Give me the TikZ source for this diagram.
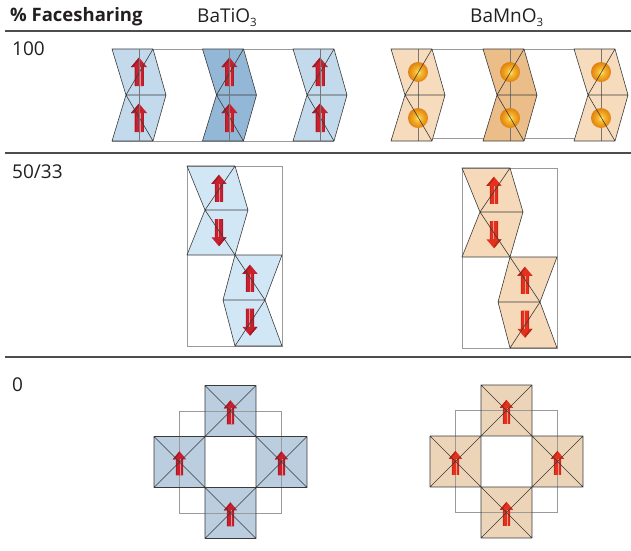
\documentclass[tikz,border=0pt]{standalone}
\usepackage{fontspec}
\setmainfont{Open Sans}

\definecolor{ink}{HTML}{231F20}
\definecolor{rulec}{HTML}{4D4D4D}
\definecolor{edgec}{HTML}{3A3A3A}
\definecolor{cellc}{HTML}{9A9A9A}
\definecolor{tiA}{HTML}{C3D9EC}
\definecolor{tiB}{HTML}{93B7D7}
\definecolor{tiC}{HTML}{D2E7F6}
\definecolor{tiD}{HTML}{BACEDF}
\definecolor{mnA}{HTML}{F6DBBD}
\definecolor{mnB}{HTML}{EBBD89}
\definecolor{mnC}{HTML}{F5D9B9}
\definecolor{mnD}{HTML}{ECD4B8}
\definecolor{tiSpin}{HTML}{C8202E}
\definecolor{mnSpin}{HTML}{E5301C}
\definecolor{orbIn}{HTML}{FFF2A0}
\definecolor{orbMidA}{HTML}{F8BE30}
\definecolor{orbMid}{HTML}{E58A14}
\definecolor{orbDark}{HTML}{BE660C}
\definecolor{orbOut}{HTML}{8C4A08}

% glossy Mn sphere
\pgfdeclareradialshading{orb}{\pgfpoint{0bp}{0bp}}{color(0bp)=(orbIn); color(7bp)=(orbMidA); color(22bp)=(orbMid); color(38bp)=(orbDark); color(50bp)=(orbOut)}

\tikzset{
  octedge/.style={draw=edgec, line width=0.6pt, line join=round},
  cellline/.style={draw=cellc, line width=0.7pt},
  rulestyle/.style={draw=rulec, line width=1.2pt},
  label/.style={anchor=base west, inner sep=0pt, text=ink, font=\fontsize{19}{21}\selectfont},
  % red polarisation arrow, centred at the origin, pointing up
  pics/spin/.style={code={
    \fill[spinc] (0,-14.5) -- (8,-5) -- (4.4,-5) -- (4.4,14) -- (-4.4,14) -- (-4.4,-5) -- (-8,-5) -- cycle;
    \fill[spinc!80!black] (-8,-5) -- (0,-14.5) -- (0,-12) -- (-5.6,-5) -- cycle;
    \fill[spinc!85!black] (-4.4,-5) rectangle (-3.4,14);
    \fill[spinc!88!black] (3.5,-5) rectangle (4.4,14);
    \fill[spinc!50!white] (0.3,-5) rectangle (1.5,14);
  }},
  % face-sharing pair of octahedra with arrows
  pics/tichev/.style={code={
    \path[pic actions] (0,0) -- (41,0) -- (54,46) -- (41,92) -- (0,92) -- (14,46) -- cycle;
    \pic at (27,23) {spin};
    \pic at (27,69) {spin};
    \draw[octedge] (0,0) -- (41,0) -- (54,46) -- (41,92) -- (0,92) -- (14,46) -- cycle
      (14,46) -- (54,46) (41,0) -- (14,46) -- (41,92);
    \draw[draw=edgec!70, line width=0.5pt] (27,0) -- (27,92);
  }},
  % face-sharing pair of octahedra with Mn spheres
  pics/mnchev/.style={code={
    \path[pic actions] (0,0) -- (41,0) -- (54,46) -- (41,92) -- (0,92) -- (14,46) -- cycle;
    \draw[draw=edgec!70, line width=0.5pt] (27,0) -- (27,92);
    \shade[shading=orb] (27,23) circle (10);
    \shade[shading=orb] (27,69) circle (10);
    \draw[octedge] (0,0) -- (41,0) -- (54,46) -- (41,92) -- (0,92) -- (14,46) -- cycle
      (14,46) -- (54,46) (41,0) -- (14,46) -- (41,92);
  }},
  % two pairs shifted by half a cell
  pics/zigzag/.style={code={
    \path[pic actions] (0,0) -- (48,0) -- (61,44) -- (48,89) -- (0,89) -- (18,44) -- cycle;
    \path[pic actions] (48,89) -- (95,89) -- (78,134) -- (95,180) -- (48,180) -- (36,134) -- cycle;
    \draw[cellline] (0,0) rectangle (95,180);
    \pic[scale=0.95] at (32,22.5) {spin};
    \pic[scale=0.95, rotate=180] at (32,66.5) {spin};
    \pic[scale=0.95] at (63,112.5) {spin};
    \pic[scale=0.95, rotate=180] at (63,156) {spin};
    \draw[octedge] (0,0) -- (48,0) -- (61,44) -- (48,89) -- (0,89) -- (18,44) -- cycle
      (18,44) -- (61,44) (48,0) -- (18,44) -- (48,89);
    \draw[octedge] (48,89) -- (95,89) -- (78,134) -- (95,180) -- (48,180) -- (36,134) -- cycle
      (36,134) -- (78,134) (48,89) -- (78,134) -- (48,180);
  }},
  % corner-sharing ring of four octahedra seen from above
  pics/ring/.style={code={
    \foreach \cx/\cy in {0/-51, -51/0, 51/0, 0/51}{
      \path[pic actions] (\cx-25.5,\cy-25.5) rectangle (\cx+25.5,\cy+25.5);
    }
    \draw[cellline] (-51,-51) rectangle (51,51);
    \foreach \cx/\cy in {0/-51, -51/0, 51/0, 0/51}{
      \pic[scale=0.84] at (\cx,\cy+1.5) {spin};
      \draw[octedge] (\cx-25.5,\cy-25.5) rectangle (\cx+25.5,\cy+25.5)
        (\cx-25.5,\cy-25.5) -- (\cx+25.5,\cy+25.5)
        (\cx-25.5,\cy+25.5) -- (\cx+25.5,\cy-25.5);
    }
  }},
}

\begin{document}
\begin{tikzpicture}[x=1pt, y=-1pt]
  \useasboundingbox[fill=white] (0,0) rectangle (631,550);

  % headings
  \node[label, font=\bfseries\fontsize{18.5}{20}\selectfont] (hdr) at (10,21) {\% Facesharing};
  \node[label] (bto) at (197,22) {BaTiO\raisebox{-0.45ex}{\fontsize{11.5}{12}\selectfont 3}};
  \node[label] (bmo) at (470,22) {BaMnO\raisebox{-0.45ex}{\fontsize{11.5}{12}\selectfont 3}};
  \node[label] (r100) at (12,55) {100};
  \node[label] (r50) at (12,178) {50/33};
  \node[label] (r0) at (12,391) {0};

  % row separators
  \draw[rulestyle] (5,31) -- (631,31);
  \draw[rulestyle] (5,153) -- (631,153);
  \draw[rulestyle] (5,357) -- (631,357);

  % 100 % face sharing, BaTiO3
  \begin{scope}
    \colorlet{spinc}{tiSpin}
    \draw[cellline, line width=1pt] (112,49) -- (334,49) (112,141) -- (334,141);
    \pic[fill=tiA] at (112,49) {tichev};
    \pic[fill=tiB] at (202.5,49) {tichev};
    \pic[fill=tiA] at (293,49) {tichev};
  \end{scope}

  % 100 % face sharing, BaMnO3
  \begin{scope}[shift={(0,49)}, yscale=0.97]
    \draw[cellline, line width=1pt] (391,0) -- (615,0) (391,92) -- (615,92);
    \pic[fill=mnA] at (391,0) {mnchev};
    \pic[fill=mnB] at (483,0) {mnchev};
    \pic[fill=mnA] at (574,0) {mnchev};
  \end{scope}

  % 50/33 % face sharing
  \begin{scope}
    \colorlet{spinc}{tiSpin}
    \pic[fill=tiC] at (187,166) {zigzag};
  \end{scope}
  \begin{scope}
    \colorlet{spinc}{mnSpin}
    \pic[fill=mnC] at (462,168) {zigzag};
  \end{scope}

  % 0 % face sharing
  \begin{scope}
    \colorlet{spinc}{tiSpin}
    \pic[fill=tiD] at (230.5,462) {ring};
  \end{scope}
  \begin{scope}
    \colorlet{spinc}{mnSpin}
    \pic[fill=mnD] at (506.5,461.5) {ring};
  \end{scope}
\end{tikzpicture}
\end{document}
